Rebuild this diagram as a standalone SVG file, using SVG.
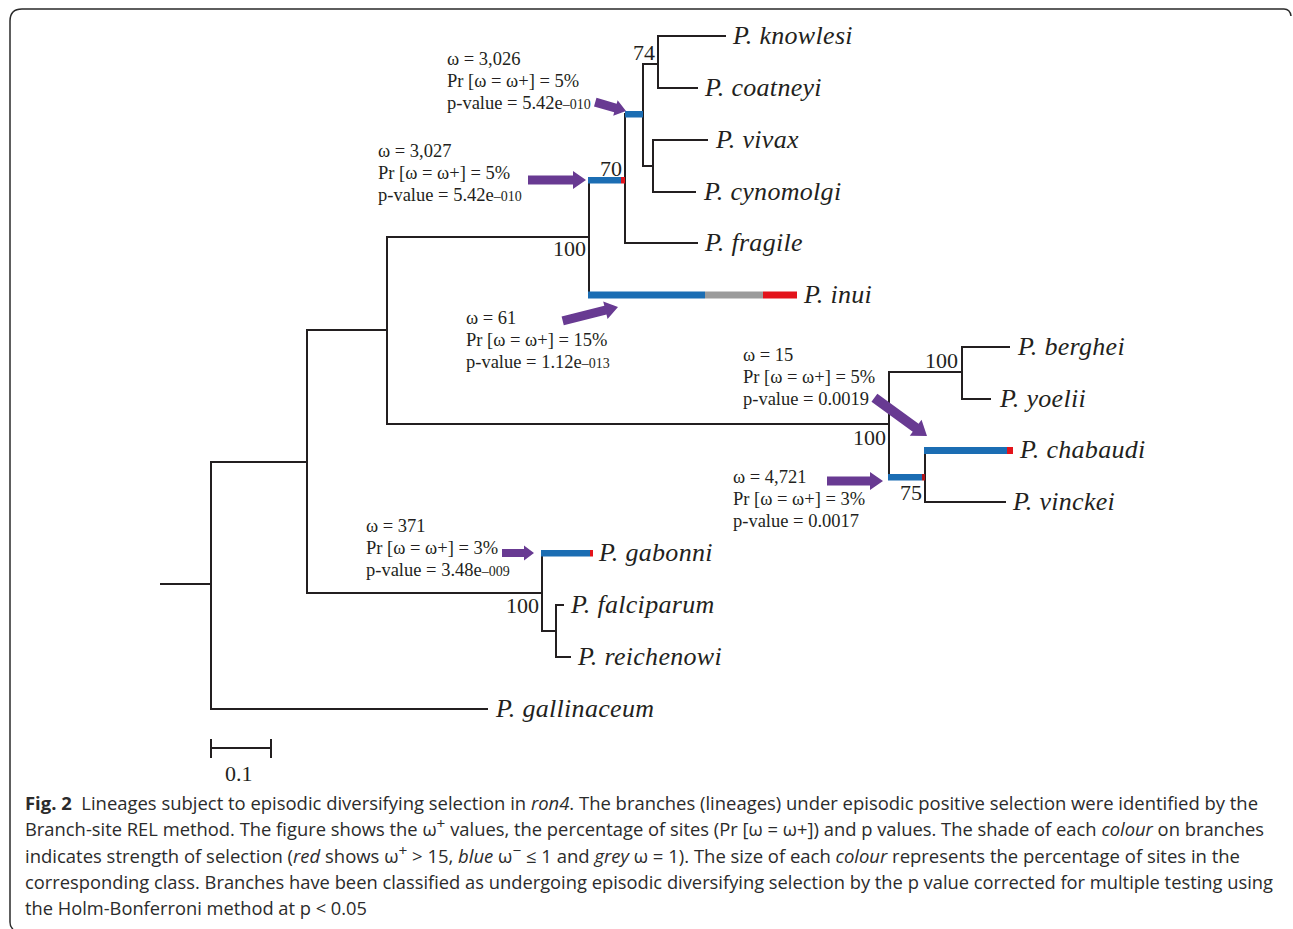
<svg xmlns="http://www.w3.org/2000/svg" width="1293" height="929" viewBox="0 0 1293 929">
<style>
.br{stroke:#231f20;stroke-width:2;fill:none;stroke-linecap:square}
.sp{font-family:"Liberation Serif","Times New Roman",serif;font-style:italic;font-size:26px;fill:#231f20;letter-spacing:0.3px}
.an{font-family:"Liberation Serif","Times New Roman",serif;font-size:18.5px;fill:#231f20}
.sm{font-size:14px}
.bs{font-family:"Liberation Serif","Times New Roman",serif;font-size:22px;fill:#231f20}
.cap{font-family:"Open Sans","Noto Sans",sans-serif;font-size:18px;fill:#2b2b2b}
.blue{fill:#1b6db3}.red{fill:#e3131b}.grey{fill:#9b9b9b}
.arr{fill:#683a92}
</style>
<rect width="1293" height="929" fill="#fff"/>
<path d="M1291,16 Q1290,9 1284,9 L22,9 Q10,9 10,21 L10,922 Q10,927 13,929" fill="none" stroke="#2a2a2a" stroke-width="1.5"/>

<g id="connectors">
<path class="br" d="M161,584 H211 M211,462 V709 M211,462 H307 M307,330 V593 M307,330 H387 M387,237 V424 M387,237 H589 M589,180 V295"/>
<path class="br" d="M625,114 V243 M625,243 H697 M643,64 V166 M643,64 H658 M658,36 V88 M658,36 H725 M658,88 H697 M643,166 H653 M653,140 V192 M653,140 H707 M653,192 H695"/>
<path class="br" d="M387,424 H889 M889,372 V477 M889,372 H962 M962,347 V399 M962,347 H1009 M962,399 H990 M925,450 V502 M925,502 H1005"/>
<path class="br" d="M307,593 H542 M542,553 V631 M542,631 H556 M556,605 V657 M556,605 H563 M556,657 H570 M211,709 H487"/>
<path class="br" d="M211,748 H271 M211,740 V757 M271,740 V757"/>
<rect class="blue" x="588" y="177" width="33" height="6.5"/><rect class="red" x="621" y="177" width="4" height="6.5"/>
<rect class="blue" x="625" y="111" width="18" height="6.5"/>
<rect class="blue" x="588" y="291.5" width="117" height="7"/><rect class="grey" x="705" y="291.5" width="58" height="7"/><rect class="red" x="763" y="291.5" width="34" height="7"/>
<rect class="blue" x="924" y="447" width="83" height="7"/><rect class="red" x="1007" y="447" width="6" height="7"/>
<rect class="blue" x="888" y="474" width="34" height="6.5"/><rect x="922" y="474" width="3" height="6.5" fill="#b0141a"/>
<rect class="blue" x="541" y="550" width="49" height="6.5"/><rect class="red" x="590" y="550" width="3" height="6.5"/>
</g>

<g id="arrows">
<polygon class="arr" transform="translate(626,111) rotate(16)" points="0,0 -11,-8 -11,-4.5 -32,-4.5 -32,4.5 -11,4.5 -11,8"/>
<polygon class="arr" transform="translate(586,180)" points="0,0 -13,-9 -13,-4.5 -58,-4.5 -58,4.5 -13,4.5 -13,9"/>
<polygon class="arr" transform="translate(618,307) rotate(-14)" points="0,0 -13,-9 -13,-4.5 -57,-4.5 -57,4.5 -13,4.5 -13,9"/>
<polygon class="arr" transform="translate(927,436) rotate(36)" points="0,0 -14,-10 -14,-5 -65,-5 -65,5 -14,5 -14,10"/>
<polygon class="arr" transform="translate(883,481)" points="0,0 -13,-9 -13,-4.5 -56,-4.5 -56,4.5 -13,4.5 -13,9"/>
<polygon class="arr" transform="translate(534,553)" points="0,0 -10,-7.5 -10,-4 -32,-4 -32,4 -10,4 -10,7.5"/>
</g>

<g id="node-knowlesi"><text class="sp" x="733" y="44">P. knowlesi</text></g>
<g id="node-coatneyi"><text class="sp" x="705" y="96">P. coatneyi</text></g>
<g id="node-vivax"><text class="sp" x="716" y="148">P. vivax</text></g>
<g id="node-cynomolgi"><text class="sp" x="704" y="200">P. cynomolgi</text></g>
<g id="node-fragile"><text class="sp" x="705" y="251">P. fragile</text></g>
<g id="node-inui"><text class="sp" x="804" y="303">P. inui</text></g>
<g id="node-berghei"><text class="sp" x="1018" y="355">P. berghei</text></g>
<g id="node-yoelii"><text class="sp" x="1000" y="407">P. yoelii</text></g>
<g id="node-chabaudi"><text class="sp" x="1020" y="458">P. chabaudi</text></g>
<g id="node-vinckei"><text class="sp" x="1013" y="510">P. vinckei</text></g>
<g id="node-gabonni"><text class="sp" x="599" y="561">P. gabonni</text></g>
<g id="node-falciparum"><text class="sp" x="571" y="613">P. falciparum</text></g>
<g id="node-reichenowi"><text class="sp" x="578" y="665">P. reichenowi</text></g>
<g id="node-gallinaceum"><text class="sp" x="496" y="717">P. gallinaceum</text></g>

<g id="support">
<text class="bs" x="633" y="60">74</text>
<text class="bs" x="600" y="176">70</text>
<text class="bs" x="553" y="256">100</text>
<text class="bs" x="925" y="368">100</text>
<text class="bs" x="853" y="445">100</text>
<text class="bs" x="900" y="500">75</text>
<text class="bs" x="506" y="613">100</text>
<text class="bs" x="225" y="781">0.1</text>
</g>

<g id="annot1" class="an">
<text x="447" y="65">ω = 3,026</text>
<text x="447" y="87">Pr [ω = ω+] = 5%</text>
<text x="447" y="109">p-value = 5.42e<tspan class="sm">–010</tspan></text>
</g>
<g id="annot2" class="an">
<text x="378" y="157">ω = 3,027</text>
<text x="378" y="179">Pr [ω = ω+] = 5%</text>
<text x="378" y="201">p-value = 5.42e<tspan class="sm">–010</tspan></text>
</g>
<g id="annot3" class="an">
<text x="466" y="324">ω = 61</text>
<text x="466" y="346">Pr [ω = ω+] = 15%</text>
<text x="466" y="368">p-value = 1.12e<tspan class="sm">–013</tspan></text>
</g>
<g id="annot4" class="an">
<text x="743" y="361">ω = 15</text>
<text x="743" y="383">Pr [ω = ω+] = 5%</text>
<text x="743" y="405">p-value = 0.0019</text>
</g>
<g id="annot5" class="an">
<text x="733" y="483">ω = 4,721</text>
<text x="733" y="505">Pr [ω = ω+] = 3%</text>
<text x="733" y="527">p-value = 0.0017</text>
</g>
<g id="annot6" class="an">
<text x="366" y="532">ω = 371</text>
<text x="366" y="554">Pr [ω = ω+] = 3%</text>
<text x="366" y="576">p-value = 3.48e<tspan class="sm">–009</tspan></text>
</g>

<g id="caption" class="cap">
<text x="25" y="810" textLength="1233" lengthAdjust="spacingAndGlyphs"><tspan font-weight="bold">Fig. 2</tspan>&#160;&#160;Lineages subject to episodic diversifying selection in <tspan font-style="italic">ron4</tspan>. The branches (lineages) under episodic positive selection were identified by the</text>
<text x="25" y="836" textLength="1239" lengthAdjust="spacingAndGlyphs">Branch-site REL method. The figure shows the ω<tspan font-size="15" dy="-7">+</tspan><tspan dy="7"> values, the percentage of sites (Pr [ω = ω+]) and p values. The shade of each </tspan><tspan font-style="italic">colour</tspan> on branches</text>
<text x="25" y="863" textLength="1215" lengthAdjust="spacingAndGlyphs">indicates strength of selection (<tspan font-style="italic">red</tspan> shows ω<tspan font-size="15" dy="-7">+</tspan><tspan dy="7"> &gt; 15, </tspan><tspan font-style="italic">blue</tspan> ω<tspan font-size="15" dy="-7">−</tspan><tspan dy="7"> ≤ 1 and </tspan><tspan font-style="italic">grey</tspan> ω = 1). The size of each <tspan font-style="italic">colour</tspan> represents the percentage of sites in the</text>
<text x="25" y="889" textLength="1248" lengthAdjust="spacingAndGlyphs">corresponding class. Branches have been classified as undergoing episodic diversifying selection by the p value corrected for multiple testing using</text>
<text x="25" y="915" textLength="342" lengthAdjust="spacingAndGlyphs">the Holm-Bonferroni method at p &lt; 0.05</text>
</g>
</svg>
